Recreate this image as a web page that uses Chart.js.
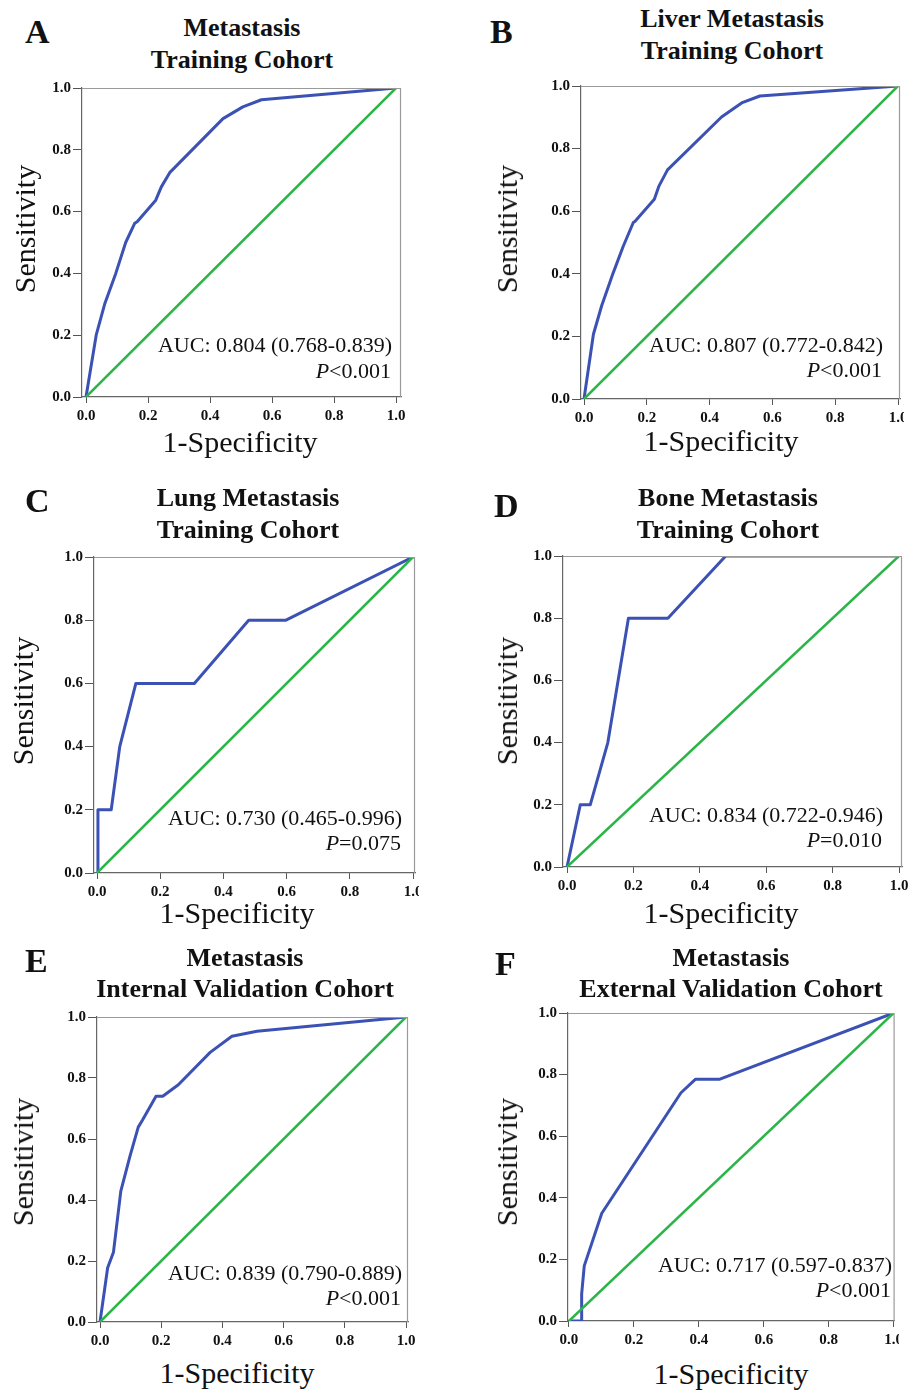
<!DOCTYPE html>
<html>
<head>
<meta charset="utf-8">
<script src="https://cdn.jsdelivr.net/npm/chart.js@4/dist/chart.umd.min.js"></script>
<style>
  html, body { margin: 0; padding: 0; background: #fff; }
  body { width: 909px; height: 1391px; position: relative; overflow: hidden; font-family: "Liberation Serif", "Times New Roman", serif; color: #111; }
  .txt { position: absolute; line-height: 1; white-space: nowrap; }
  .clip { position: absolute; overflow: hidden; }
  .clip canvas { position: absolute; left: 0; top: 0; }
</style>
</head>
<body>
<script>
// ROC data (1-specificity, sensitivity)
const fprA = [0, 0.033, 0.060, 0.096, 0.128, 0.157, 0.165, 0.225, 0.243, 0.270, 0.442, 0.506, 0.566, 1];
const tprA = [0, 0.201, 0.300, 0.400, 0.500, 0.562, 0.567, 0.637, 0.680, 0.726, 0.901, 0.939, 0.962, 1];

const fprB = [0, 0.030, 0.056, 0.093, 0.125, 0.157, 0.162, 0.224, 0.239, 0.266, 0.438, 0.502, 0.560, 1];
const tprB = [0, 0.207, 0.297, 0.403, 0.488, 0.564, 0.567, 0.638, 0.681, 0.732, 0.901, 0.946, 0.968, 1];

const fprC = [0, 0.003, 0.045, 0.072, 0.123, 0.308, 0.480, 0.598, 1];
const tprC = [0, 0.2, 0.2, 0.4, 0.6, 0.6, 0.8, 0.8, 1];

const fprD = [0, 0.040, 0.070, 0.123, 0.185, 0.304, 0.478, 1];
const tprD = [0, 0.2, 0.2, 0.4, 0.8, 0.8, 1, 1];

const fprE = [0, 0.025, 0.044, 0.068, 0.098, 0.125, 0.139, 0.183, 0.205, 0.256, 0.360, 0.431, 0.513, 1];
const tprE = [0, 0.178, 0.229, 0.429, 0.544, 0.639, 0.662, 0.740, 0.740, 0.778, 0.884, 0.937, 0.953, 1];

const fprF = [0, 0.039, 0.039, 0.047, 0.101, 0.345, 0.390, 0.465, 1];
const tprF = [0, 0, 0.087, 0.179, 0.350, 0.741, 0.785, 0.785, 1];

// reference line
const diagX = [0, 1];
const diagY = [0, 1];

const tickValues = [0, 0.2, 0.4, 0.6, 0.8, 1.0];

const panelLetters = ['A', 'B', 'C', 'D', 'E', 'F'];
const titleLines = [
    ['Metastasis', 'Training Cohort'],
    ['Liver Metastasis', 'Training Cohort'],
    ['Lung Metastasis', 'Training Cohort'],
    ['Bone Metastasis', 'Training Cohort'],
    ['Metastasis', 'Internal Validation Cohort'],
    ['Metastasis', 'External Validation Cohort']
];
const aucLabels = [
    'AUC: 0.804 (0.768-0.839)',
    'AUC: 0.807 (0.772-0.842)',
    'AUC: 0.730 (0.465-0.996)',
    'AUC: 0.834 (0.722-0.946)',
    'AUC: 0.839 (0.790-0.889)',
    'AUC: 0.717 (0.597-0.837)'
];
const pLabels = ['<0.001', '<0.001', '=0.075', '=0.010', '<0.001', '<0.001'];
const xTitle = '1-Specificity';
const yTitle = 'Sensitivity';

// layout of each panel in page pixels
const layout = [
    { l: 82,  t: 88,   r: 401, b: 397,  x0: 86,  x1: 396, clip: 455, letter: [25, 43],   title: [242, 37, 69],   xt: [240, 452],   yt: [25, 229],   auc: [392, 352, 378] },
    { l: 581, t: 86,   r: 900, b: 399,  x0: 584, x1: 898, clip: 904, letter: [490, 43],  title: [732, 28, 60],   xt: [721, 451],   yt: [507, 229],  auc: [883, 352, 377] },
    { l: 94,  t: 557,  r: 415, b: 873,  x0: 97,  x1: 413, clip: 419, letter: [25, 512],  title: [248, 507, 539], xt: [237, 923],   yt: [23, 701],   auc: [402, 825, 850] },
    { l: 563, t: 556,  r: 902, b: 867,  x0: 567, x1: 899, clip: 909, letter: [494, 517], title: [728, 507, 539], xt: [721, 923],   yt: [507, 701],  auc: [883, 822, 847] },
    { l: 97,  t: 1017, r: 408, b: 1322, x0: 100, x1: 406, clip: 455, letter: [25, 972],  title: [245, 967, 998], xt: [237, 1383],  yt: [23, 1162],  auc: [402, 1280, 1305] },
    { l: 568, t: 1013, r: 895, b: 1321, x0: 569, x1: 894, clip: 899, letter: [495, 975], title: [731, 967, 998], xt: [731, 1384],  yt: [507, 1162], auc: [892, 1272, 1297] }
];

const curves = [[fprA, tprA], [fprB, tprB], [fprC, tprC], [fprD, tprD], [fprE, tprE], [fprF, tprF]];

const BLUE = '#3b52b4';
const GREEN = '#2bb548';
const SERIF = '"Liberation Serif", "Times New Roman", serif';
const ASC = 0.8375; // baseline offset for line-height 1

function toPoints(xs, ys) {
    return xs.map((x, i) => ({ x: x, y: ys[i] }));
}

// put a text div so that its baseline lands on y
function addText(html, opts) {
    const d = document.createElement('div');
    d.className = 'txt';
    d.innerHTML = html;
    d.style.fontSize = opts.size + 'px';
    if (opts.bold) d.style.fontWeight = 'bold';
    const top = opts.base - ASC * opts.size;
    d.style.top = top + 'px';
    if (opts.align === 'center') {
        d.style.left = (opts.x - 300) + 'px';
        d.style.width = '600px';
        d.style.textAlign = 'center';
    } else if (opts.align === 'right') {
        d.style.left = (opts.x - 600) + 'px';
        d.style.width = '600px';
        d.style.textAlign = 'right';
    } else {
        d.style.left = opts.x + 'px';
    }
    document.body.appendChild(d);
    return d;
}

function addRotated(text, cx, cy, size) {
    const d = document.createElement('div');
    d.className = 'txt';
    d.textContent = text;
    d.style.fontSize = size + 'px';
    d.style.left = cx + 'px';
    d.style.top = cy + 'px';
    d.style.transform = 'translate(-50%, -50%) rotate(-90deg)';
    document.body.appendChild(d);
}

// top and right sides of the plot box
const frameBox = {
    id: 'frameBox',
    afterDatasetsDraw(chart) {
        const a = chart.chartArea;
        const ctx = chart.ctx;
        ctx.save();
        ctx.strokeStyle = '#9a9a9a';
        ctx.lineWidth = 1.2;
        ctx.beginPath();
        ctx.moveTo(a.left, a.top + 0.5);
        ctx.lineTo(a.right - 0.5, a.top + 0.5);
        ctx.lineTo(a.right - 0.5, a.bottom);
        ctx.stroke();
        ctx.restore();
    }
};

const tickFont = { family: SERIF, size: 15, weight: 'bold' };
const Y_AXIS_W = 60, X_AXIS_H = 30, PAD_T = 12, PAD_R = 12;

layout.forEach((p, i) => {
    const span = p.x1 - p.x0;
    const xMin = -(p.x0 - p.l) / span;
    const xMax = 1 + (p.r - p.x1) / span;

    const cLeft = p.l - Y_AXIS_W;
    const cTop = p.t - PAD_T;
    const cW = Y_AXIS_W + (p.r - p.l) + PAD_R;
    const cH = PAD_T + (p.b - p.t) + X_AXIS_H;

    const wrap = document.createElement('div');
    wrap.className = 'clip';
    wrap.style.left = cLeft + 'px';
    wrap.style.top = cTop + 'px';
    wrap.style.width = Math.min(cW, p.clip - cLeft) + 'px';
    wrap.style.height = cH + 'px';
    const canvas = document.createElement('canvas');
    canvas.width = cW;
    canvas.height = cH;
    canvas.style.width = cW + 'px';
    canvas.style.height = cH + 'px';
    wrap.appendChild(canvas);
    document.body.appendChild(wrap);

    const [fpr, tpr] = curves[i];

    new Chart(canvas.getContext('2d'), {
        type: 'line',
        data: {
            datasets: [{
                data: toPoints(diagX, diagY),
                borderColor: GREEN,
                borderWidth: 2.5,
                pointRadius: 0,
                tension: 0
            }, {
                data: toPoints(fpr, tpr),
                borderColor: BLUE,
                borderWidth: 3,
                pointRadius: 0,
                tension: 0,
                borderJoinStyle: 'round'
            }]
        },
        options: {
            responsive: false,
            animation: false,
            events: [],
            layout: { padding: { top: PAD_T, right: PAD_R, left: 0, bottom: 0 } },
            plugins: {
                legend: { display: false },
                tooltip: { enabled: false }
            },
            scales: {
                x: {
                    type: 'linear',
                    min: xMin,
                    max: xMax,
                    afterBuildTicks: s => { s.ticks = tickValues.map(v => ({ value: v })); },
                    afterFit: s => { s.height = X_AXIS_H; },
                    grid: { drawOnChartArea: false, drawTicks: true, tickLength: 6, color: '#555' },
                    border: { color: '#666', width: 1.2 },
                    ticks: { padding: 4, font: tickFont, color: '#111', maxRotation: 0, callback: v => v.toFixed(1) }
                },
                y: {
                    type: 'linear',
                    min: 0,
                    max: 1,
                    afterBuildTicks: s => { s.ticks = tickValues.map(v => ({ value: v })); },
                    afterFit: s => { s.width = Y_AXIS_W; },
                    grid: { drawOnChartArea: false, drawTicks: true, tickLength: 9, color: '#555' },
                    border: { color: '#666', width: 1.2 },
                    ticks: { padding: 2, font: tickFont, color: '#111', callback: v => v.toFixed(1) }
                }
            }
        },
        plugins: [frameBox]
    });

    // panel letter, titles, axis titles, AUC text
    addText(panelLetters[i], { x: p.letter[0], base: p.letter[1], size: 34, bold: true });
    addText(titleLines[i][0], { x: p.title[0], base: p.title[1], size: 26, bold: true, align: 'center' });
    addText(titleLines[i][1], { x: p.title[0], base: p.title[2], size: 26, bold: true, align: 'center' });
    addText(xTitle, { x: p.xt[0], base: p.xt[1], size: 30, align: 'center' });
    addRotated(yTitle, p.yt[0], p.yt[1], 30);
    addText(aucLabels[i], { x: p.auc[0], base: p.auc[1], size: 22, align: 'right' });
    addText('<i>P</i>' + pLabels[i], { x: p.auc[0] - 1, base: p.auc[2], size: 22, align: 'right' });
});
</script>
</body>
</html>
